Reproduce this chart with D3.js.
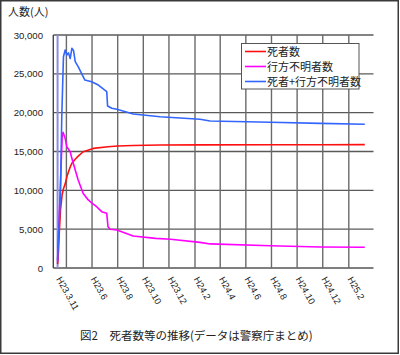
<!DOCTYPE html>
<html><head><meta charset="utf-8">
<script src="https://cdn.jsdelivr.net/npm/d3@7"></script>
<style>
html,body{margin:0;padding:0;background:#fff;}
svg{display:block;}
text{font-family:"Liberation Sans",Arial,sans-serif;fill:#222;}
.jp{font-family:"Noto Sans CJK JP","Noto Sans",sans-serif;}
</style></head>
<body>
<svg id="c" width="400" height="355"></svg>
<script>
// ---- data ----
const deaths = [
 ["2011-03-11",500],["2011-03-13",2000],["2011-03-15",4500],["2011-03-18",7500],
 ["2011-03-22",9500],["2011-03-25",10200],["2011-03-29",10800],["2011-04-02",11700],
 ["2011-04-06",12400],["2011-04-10",13000],["2011-04-14",13480],["2011-04-22",14000],
 ["2011-04-29",14400],["2011-05-11",14970],["2011-06-04",15400],["2011-07-09",15620],
 ["2011-08-01",15700],["2011-09-07",15770],["2011-11-10",15830],["2012-02-13",15850],
 ["2012-07-29",15868],["2012-11-25",15875],["2013-03-11",15880]
];
const missing = [
 ["2011-03-11",800],["2011-03-22",17000],["2011-03-24",17470],["2011-03-29",16700],
 ["2011-04-02",15620],["2011-04-10",14970],["2011-04-14",14120],["2011-04-22",12620],
 ["2011-04-29",11330],["2011-05-11",9600],["2011-05-23",8760],["2011-05-31",8400],
 ["2011-06-12",7890],["2011-06-24",7250],["2011-07-06",7040],["2011-07-09",5320],
 ["2011-07-14",4980],["2011-07-30",4890],["2011-09-07",4120],["2011-10-30",3820],
 ["2011-12-05",3700],["2012-02-13",3300],["2012-03-08",3100],["2012-07-29",2870],
 ["2012-11-25",2700],["2013-03-11",2670]
];
const total = [
 ["2011-03-11",1000],["2011-03-18",10000],["2011-03-21",19500],["2011-03-25",27200],
 ["2011-03-29",28070],["2011-04-02",27420],["2011-04-06",27700],["2011-04-10",26970],
 ["2011-04-14",28290],["2011-04-18",28000],["2011-04-22",26560],["2011-04-29",25920],
 ["2011-05-07",25070],["2011-05-15",24200],["2011-05-31",23990],["2011-06-16",23560],
 ["2011-07-06",22700],["2011-07-08",20860],["2011-07-18",20560],["2011-07-30",20430],
 ["2011-09-07",19830],["2011-11-10",19480],["2012-02-13",19150],["2012-03-08",18930],
 ["2012-07-29",18760],["2012-11-25",18620],["2013-03-11",18500]
];
const seriesNames = ["死者数","行方不明者数","死者+行方不明者数"];
const seriesColors = ["#ff1010","#ff00ff","#3366ff"];
const tickLabels = ["H23.3.11","H23.6","H23.8","H23.10","H23.12","H24.2","H24.4","H24.6","H24.8","H24.10","H24.12","H25.2"];
const tickDates = ["2011-03-11","2011-06-01","2011-08-01","2011-10-01","2011-12-01","2012-02-01","2012-04-01","2012-06-01","2012-08-01","2012-10-01","2012-12-01","2013-02-01"];
const gridDates = ["2011-04-01","2011-06-01","2011-08-01","2011-10-01","2011-12-01","2012-02-01","2012-04-01","2012-06-01","2012-08-01","2012-10-01","2012-12-01","2013-02-01"];
const yTicks = [0,5000,10000,15000,20000,25000,30000];
const yUnit = "人数(人)";
const title = "図2　死者数等の推移(データは警察庁まとめ)";

// ---- drawing ----
const parse = d3.timeParse("%Y-%m-%d");
const svg = d3.select("#c");
const L = 53.3, R = 373.5, T = 35, B = 268;
const x = d3.scaleTime().domain([parse("2011-04-01"), parse("2013-04-01")]).range([66.4, 373.6]);
const y = d3.scaleLinear().domain([0,30000]).range([B, T]);

// outer frame
svg.append("rect").attr("x",0.75).attr("y",0.75).attr("width",397.5).attr("height",352.5)
  .attr("fill","#fff").attr("stroke","#3a3a3a").attr("stroke-width",1.5);

// horizontal grid
svg.append("g").selectAll("line").data(yTicks).join("line")
  .attr("x1",L).attr("x2",R).attr("y1",d=>y(d)).attr("y2",d=>y(d))
  .attr("stroke",d=>d===0?"#555":"#5a5a5a").attr("stroke-width",1.4);
// vertical grid
svg.append("g").selectAll("line").data(gridDates).join("line")
  .attr("x1",d=>x(parse(d))).attr("x2",d=>x(parse(d))).attr("y1",T).attr("y2",B)
  .attr("stroke","#6a6a6a").attr("stroke-width",1.4);
// left axis line
svg.append("line").attr("x1",L).attr("x2",L).attr("y1",T).attr("y2",B).attr("stroke","#444").attr("stroke-width",1.4);
// start marker line
svg.append("line").attr("x1",x(parse(tickDates[0]))).attr("x2",x(parse(tickDates[0])))
  .attr("y1",T).attr("y2",B).attr("stroke","#8c8ce0").attr("stroke-width",2);

// y labels
svg.append("g").selectAll("text").data(yTicks).join("text")
  .attr("x",43).attr("y",d=>y(d)+3.5).attr("text-anchor","end").attr("font-size",9.6)
  .text(d=>d3.format(",")(d));
svg.append("text").attr("class","jp").attr("x",8).attr("y",16).attr("font-size",11).text(yUnit);

// x labels
svg.append("g").selectAll("text").data(tickLabels).join("text")
  .attr("transform",(d,i)=>`translate(${x(parse(tickDates[i]))-1.5},279) rotate(61)`)
  .attr("font-size",9.2).text(d=>d);

// lines
const line = d3.line().x(d=>x(parse(d[0]))).y(d=>y(d[1]));
[deaths, missing, total].forEach((s,i)=>{
  svg.append("path").datum(s).attr("d",line).attr("fill","none")
    .attr("stroke",seriesColors[i]).attr("stroke-width",1.6).attr("stroke-linejoin","round");
});

// legend
const lg = svg.append("g");
lg.append("rect").attr("x",241.5).attr("y",43.5).attr("width",117.5).attr("height",45.5)
  .attr("fill","#fff").attr("stroke","#555").attr("stroke-width",1);
seriesNames.forEach((n,i)=>{
  const yy = 51.5 + i*15;
  lg.append("line").attr("x1",245).attr("x2",266).attr("y1",yy).attr("y2",yy)
    .attr("stroke",seriesColors[i]).attr("stroke-width",1.6);
  lg.append("text").attr("class","jp").attr("x",267).attr("y",yy+4).attr("font-size",11).text(n);
});

// title
svg.append("text").attr("class","jp").attr("x",80).attr("y",339.5).attr("font-size",11.5).attr("fill","#333").text(title);
</script>
</body></html>
